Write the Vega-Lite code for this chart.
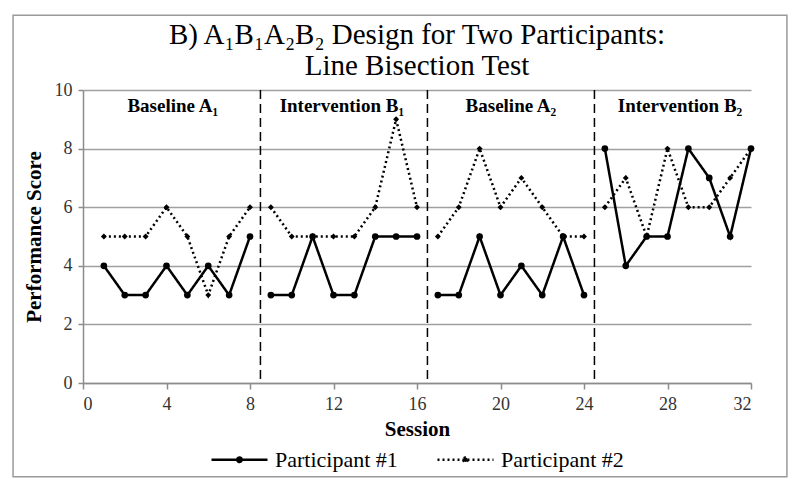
{
  "$schema": "https://vega.github.io/schema/vega-lite/v6.json",
  "width": 668,
  "height": 293,
  "autosize": {"type": "none"},
  "padding": {"left": 83, "top": 90, "right": 49, "bottom": 108},
  "background": "white",
  "title": {
    "text": ["B) A₁B₁A₂B₂ Design for Two Participants:", "Line Bisection Test"],
    "font": "Liberation Serif",
    "fontSize": 29,
    "fontWeight": "normal",
    "lineHeight": 31,
    "color": "black",
    "anchor": "middle",
    "offset": -66
  },
  "config": {
    "view": {"stroke": null},
    "font": "Liberation Serif",
    "legend": {"layout": {"bottom": {"anchor": "middle"}}}
  },
  "datasets": {
    "scores": [
      {"session": 1, "score": 4, "participant": "Participant #1", "phase": "A1"},
      {"session": 2, "score": 3, "participant": "Participant #1", "phase": "A1"},
      {"session": 3, "score": 3, "participant": "Participant #1", "phase": "A1"},
      {"session": 4, "score": 4, "participant": "Participant #1", "phase": "A1"},
      {"session": 5, "score": 3, "participant": "Participant #1", "phase": "A1"},
      {"session": 6, "score": 4, "participant": "Participant #1", "phase": "A1"},
      {"session": 7, "score": 3, "participant": "Participant #1", "phase": "A1"},
      {"session": 8, "score": 5, "participant": "Participant #1", "phase": "A1"},
      {"session": 9, "score": 3, "participant": "Participant #1", "phase": "B1"},
      {"session": 10, "score": 3, "participant": "Participant #1", "phase": "B1"},
      {"session": 11, "score": 5, "participant": "Participant #1", "phase": "B1"},
      {"session": 12, "score": 3, "participant": "Participant #1", "phase": "B1"},
      {"session": 13, "score": 3, "participant": "Participant #1", "phase": "B1"},
      {"session": 14, "score": 5, "participant": "Participant #1", "phase": "B1"},
      {"session": 15, "score": 5, "participant": "Participant #1", "phase": "B1"},
      {"session": 16, "score": 5, "participant": "Participant #1", "phase": "B1"},
      {"session": 17, "score": 3, "participant": "Participant #1", "phase": "A2"},
      {"session": 18, "score": 3, "participant": "Participant #1", "phase": "A2"},
      {"session": 19, "score": 5, "participant": "Participant #1", "phase": "A2"},
      {"session": 20, "score": 3, "participant": "Participant #1", "phase": "A2"},
      {"session": 21, "score": 4, "participant": "Participant #1", "phase": "A2"},
      {"session": 22, "score": 3, "participant": "Participant #1", "phase": "A2"},
      {"session": 23, "score": 5, "participant": "Participant #1", "phase": "A2"},
      {"session": 24, "score": 3, "participant": "Participant #1", "phase": "A2"},
      {"session": 25, "score": 8, "participant": "Participant #1", "phase": "B2"},
      {"session": 26, "score": 4, "participant": "Participant #1", "phase": "B2"},
      {"session": 27, "score": 5, "participant": "Participant #1", "phase": "B2"},
      {"session": 28, "score": 5, "participant": "Participant #1", "phase": "B2"},
      {"session": 29, "score": 8, "participant": "Participant #1", "phase": "B2"},
      {"session": 30, "score": 7, "participant": "Participant #1", "phase": "B2"},
      {"session": 31, "score": 5, "participant": "Participant #1", "phase": "B2"},
      {"session": 32, "score": 8, "participant": "Participant #1", "phase": "B2"},
      {"session": 1, "score": 5, "participant": "Participant #2", "phase": "A1"},
      {"session": 2, "score": 5, "participant": "Participant #2", "phase": "A1"},
      {"session": 3, "score": 5, "participant": "Participant #2", "phase": "A1"},
      {"session": 4, "score": 6, "participant": "Participant #2", "phase": "A1"},
      {"session": 5, "score": 5, "participant": "Participant #2", "phase": "A1"},
      {"session": 6, "score": 3, "participant": "Participant #2", "phase": "A1"},
      {"session": 7, "score": 5, "participant": "Participant #2", "phase": "A1"},
      {"session": 8, "score": 6, "participant": "Participant #2", "phase": "A1"},
      {"session": 9, "score": 6, "participant": "Participant #2", "phase": "B1"},
      {"session": 10, "score": 5, "participant": "Participant #2", "phase": "B1"},
      {"session": 11, "score": 5, "participant": "Participant #2", "phase": "B1"},
      {"session": 12, "score": 5, "participant": "Participant #2", "phase": "B1"},
      {"session": 13, "score": 5, "participant": "Participant #2", "phase": "B1"},
      {"session": 14, "score": 6, "participant": "Participant #2", "phase": "B1"},
      {"session": 15, "score": 9, "participant": "Participant #2", "phase": "B1"},
      {"session": 16, "score": 6, "participant": "Participant #2", "phase": "B1"},
      {"session": 17, "score": 5, "participant": "Participant #2", "phase": "A2"},
      {"session": 18, "score": 6, "participant": "Participant #2", "phase": "A2"},
      {"session": 19, "score": 8, "participant": "Participant #2", "phase": "A2"},
      {"session": 20, "score": 6, "participant": "Participant #2", "phase": "A2"},
      {"session": 21, "score": 7, "participant": "Participant #2", "phase": "A2"},
      {"session": 22, "score": 6, "participant": "Participant #2", "phase": "A2"},
      {"session": 23, "score": 5, "participant": "Participant #2", "phase": "A2"},
      {"session": 24, "score": 5, "participant": "Participant #2", "phase": "A2"},
      {"session": 25, "score": 6, "participant": "Participant #2", "phase": "B2"},
      {"session": 26, "score": 7, "participant": "Participant #2", "phase": "B2"},
      {"session": 27, "score": 5, "participant": "Participant #2", "phase": "B2"},
      {"session": 28, "score": 8, "participant": "Participant #2", "phase": "B2"},
      {"session": 29, "score": 6, "participant": "Participant #2", "phase": "B2"},
      {"session": 30, "score": 6, "participant": "Participant #2", "phase": "B2"},
      {"session": 31, "score": 7, "participant": "Participant #2", "phase": "B2"},
      {"session": 32, "score": 8, "participant": "Participant #2", "phase": "B2"}
    ],
    "dividers": [
      {"session": 8.5},
      {"session": 16.5},
      {"session": 24.5}
    ],
    "phaseLabels": [
      {"session": 4.3, "label": "Baseline A₁"},
      {"session": 12.4, "label": "Intervention B₁"},
      {"session": 20.5, "label": "Baseline A₂"},
      {"session": 28.6, "label": "Intervention B₂"}
    ],
    "frame": [
      {"x1": -3.35, "x2": 33.72, "y1": -3.2, "y2": 12.55}
    ]
  },
  "layer": [
    {
      "data": {"name": "frame"},
      "mark": {"type": "rect", "fill": null, "stroke": "#9a9a9a", "strokeWidth": 1.5, "clip": false},
      "encoding": {
        "x": {"field": "x1", "type": "quantitative", "scale": {"domain": [0, 32]}},
        "x2": {"field": "x2"},
        "y": {"field": "y1", "type": "quantitative", "scale": {"domain": [0, 10]}},
        "y2": {"field": "y2"}
      }
    },
    {
      "data": {"name": "scores"},
      "mark": {"type": "line", "color": "black", "strokeWidth": 2.5},
      "encoding": {
        "x": {
          "field": "session", "type": "quantitative",
          "scale": {"domain": [0, 32], "nice": false, "zero": true},
          "axis": {
            "title": "Session", "values": [0, 4, 8, 12, 16, 20, 24, 28, 32],
            "grid": false, "domainColor": "#8c8c8c", "domainWidth": 1.5,
            "tickColor": "#8c8c8c", "tickWidth": 1.5, "tickSize": 6,
            "labelFont": "Liberation Serif", "labelFontSize": 18, "labelColor": "#333333",
            "labelPadding": 6,
            "titleFont": "Liberation Serif", "titleFontSize": 21, "titleFontWeight": "bold",
            "titleColor": "black", "titlePadding": 5
          }
        },
        "y": {
          "field": "score", "type": "quantitative",
          "scale": {"domain": [0, 10], "nice": false},
          "axis": {
            "title": "Performance Score", "values": [0, 2, 4, 6, 8, 10],
            "grid": true, "gridColor": "#a0a0a0", "gridWidth": 1.5,
            "domainColor": "#8c8c8c", "domainWidth": 1.5,
            "tickColor": "#8c8c8c", "tickWidth": 1.5, "tickSize": 5,
            "labelFont": "Liberation Serif", "labelFontSize": 18, "labelColor": "#333333",
            "labelPadding": 6,
            "titleFont": "Liberation Serif", "titleFontSize": 21, "titleFontWeight": "bold",
            "titleColor": "black", "titlePadding": 10
          }
        },
        "strokeDash": {
          "field": "participant", "type": "nominal",
          "scale": {"domain": ["Participant #1", "Participant #2"], "range": [[1, 0], [2, 3]]},
          "legend": {
            "title": null, "orient": "bottom", "direction": "horizontal",
            "symbolType": "M-1,0H1M-0.08,0A0.08,0.08 0 1,0 0.08,0A0.08,0.08 0 1,0 -0.08,0Z",
            "symbolSize": 3136, "symbolStrokeWidth": 2.5,
            "symbolStrokeColor": "black", "symbolFillColor": "black",
            "labelFont": "Liberation Serif", "labelFontSize": 22, "labelColor": "black",
            "columnPadding": 34, "offset": -9, "labelOffset": 6
          }
        },
        "detail": {"field": "phase"}
      }
    },
    {
      "data": {"name": "scores"},
      "transform": [{"filter": "datum.participant === 'Participant #1'"}],
      "mark": {"type": "point", "filled": true, "color": "black", "opacity": 1, "shape": "circle", "size": 45},
      "encoding": {
        "x": {"field": "session", "type": "quantitative"},
        "y": {"field": "score", "type": "quantitative"}
      }
    },
    {
      "data": {"name": "scores"},
      "transform": [{"filter": "datum.participant === 'Participant #2'"}],
      "mark": {"type": "point", "filled": true, "color": "black", "opacity": 1, "shape": "diamond", "size": 35},
      "encoding": {
        "x": {"field": "session", "type": "quantitative"},
        "y": {"field": "score", "type": "quantitative"}
      }
    },
    {
      "data": {"name": "dividers"},
      "mark": {"type": "rule", "color": "black", "strokeWidth": 1.5, "strokeDash": [9, 5]},
      "encoding": {
        "x": {"field": "session", "type": "quantitative"}
      }
    },
    {
      "data": {"name": "phaseLabels"},
      "mark": {"type": "text", "font": "Liberation Serif", "fontSize": 19, "fontWeight": "bold", "color": "black", "baseline": "middle", "align": "center"},
      "encoding": {
        "x": {"field": "session", "type": "quantitative"},
        "y": {"datum": 9.45},
        "text": {"field": "label"}
      }
    }
  ]
}
